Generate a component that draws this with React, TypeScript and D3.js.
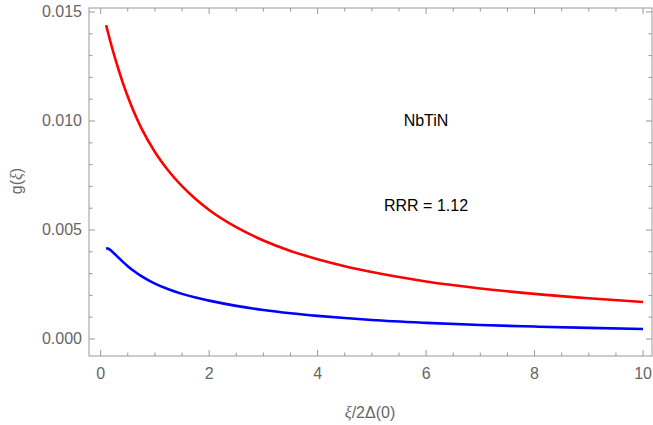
import React from "react";
import * as d3 from "d3";

const xs = [0.1, 0.15, 0.2, 0.3, 0.4, 0.5, 0.6, 0.75, 1, 1.25, 1.5, 1.75, 2, 2.5, 3, 3.5, 4, 4.5, 5, 6, 7, 8, 9, 10];
const redVals = [0.0144, 0.01392, 0.01345, 0.0126, 0.01182, 0.01112, 0.01049, 0.00967, 0.00858, 0.00772, 0.00701, 0.00642, 0.00592, 0.00513, 0.00452, 0.00404, 0.00366, 0.00334, 0.00307, 0.00264, 0.00232, 0.00207, 0.00187, 0.0017];
const blueVals = [0.00416, 0.00413, 0.00404, 0.0038, 0.00356, 0.00334, 0.00314, 0.00288, 0.00254, 0.00228, 0.00207, 0.0019, 0.00176, 0.00152, 0.00133, 0.00118, 0.00106, 0.00096, 0.00087, 0.00074, 0.00064, 0.00057, 0.00051, 0.00046];

const xMajor = [0, 2, 4, 6, 8, 10];
const xMinor = [0.5, 1, 1.5, 2.5, 3, 3.5, 4.5, 5, 5.5, 6.5, 7, 7.5, 8.5, 9, 9.5];
const yMajor = [0, 0.005, 0.01, 0.015];
const yMajorLabels = ["0.000", "0.005", "0.010", "0.015"];
const yMinor = [0.001, 0.002, 0.003, 0.004, 0.006, 0.007, 0.008, 0.009, 0.011, 0.012, 0.013, 0.014];

const W = 653, H = 425;
const L = 89, R = 652, T = 8, B = 356;

export default function App() {
  const x = d3.scaleLinear().domain([-0.215, 10.165]).range([L, R]);
  const y = d3.scaleLinear().domain([-0.00078, 0.015183]).range([B, T]);
  const line = d3.line<number>().x((_, i) => x(xs[i])).y((d) => y(d)).curve(d3.curveMonotoneX);
  const frame = "#999";
  const lab = "#666";
  const font = "Liberation Sans, Arial, sans-serif";
  return (
    <svg width={W} height={H} style={{ position: "absolute", left: 0, top: 0 }} fontFamily={font}>
      <rect x={0} y={0} width={W} height={H} fill="white" />
      <path d={line(redVals) || ""} fill="none" stroke="#ff0000" strokeWidth={2.6} />
      <path d={line(blueVals) || ""} fill="none" stroke="#0000ff" strokeWidth={2.6} />
      <rect x={L} y={T} width={R - L} height={B - T} fill="none" stroke={frame} strokeWidth={1} />
      {xMajor.map((v) => (
        <g key={"xM" + v}>
          <line x1={x(v)} x2={x(v)} y1={B} y2={B - 6} stroke={frame} />
          <line x1={x(v)} x2={x(v)} y1={T} y2={T + 6} stroke={frame} />
          <text x={x(v)} y={373} textAnchor="middle" dominantBaseline="central" fontSize={16} fill={lab}>{v}</text>
        </g>
      ))}
      {xMinor.map((v) => (
        <g key={"xm" + v}>
          <line x1={x(v)} x2={x(v)} y1={B} y2={B - 3.5} stroke={frame} />
          <line x1={x(v)} x2={x(v)} y1={T} y2={T + 3.5} stroke={frame} />
        </g>
      ))}
      {yMajor.map((v, i) => (
        <g key={"yM" + v}>
          <line x1={L} x2={L + 6} y1={y(v)} y2={y(v)} stroke={frame} />
          <line x1={R} x2={R - 6} y1={y(v)} y2={y(v)} stroke={frame} />
          <text x={82} y={y(v)} textAnchor="end" dominantBaseline="central" fontSize={16} fill={lab}>{yMajorLabels[i]}</text>
        </g>
      ))}
      {yMinor.map((v) => (
        <g key={"ym" + v}>
          <line x1={L} x2={L + 3.5} y1={y(v)} y2={y(v)} stroke={frame} />
          <line x1={R} x2={R - 3.5} y1={y(v)} y2={y(v)} stroke={frame} />
        </g>
      ))}
      <text transform="translate(16,181) rotate(-90)" textAnchor="middle" dominantBaseline="central" fontSize={16} fill={lab}>
        g(<tspan fontStyle="italic" fontFamily="Liberation Serif, Times New Roman, serif">ξ</tspan>)
      </text>
      <text x={370} y={412} textAnchor="middle" dominantBaseline="central" fontSize={16} fill={lab}>
        <tspan fontStyle="italic" fontFamily="Liberation Serif, Times New Roman, serif">ξ</tspan>/2Δ(0)
      </text>
      <text x={426} y={126} textAnchor="middle" fontSize={16} fill="#000">NbTiN</text>
      <text x={384} y={211} textAnchor="start" fontSize={16} fill="#000">RRR = 1.12</text>
    </svg>
  );
}
